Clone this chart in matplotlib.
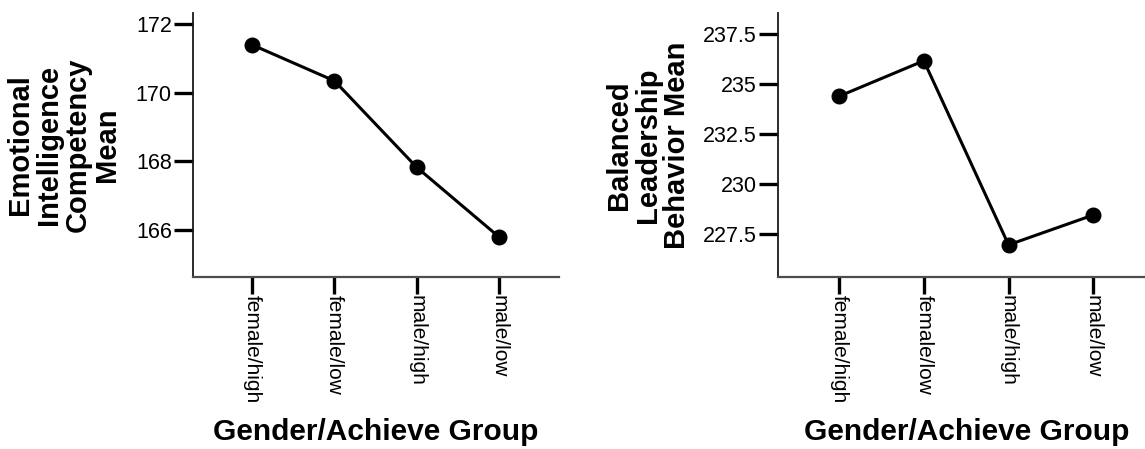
import matplotlib
matplotlib.use('Agg')
import matplotlib.pyplot as plt

# group means by gender / achievement level
groups = ['female/high', 'female/low', 'male/high', 'male/low']
ei_means = [171.40, 170.35, 167.83, 165.80]
blb_means = [234.39, 236.16, 226.97, 228.46]

ei_ticks = [166, 168, 170, 172]
ei_ticklabels = ['166', '168', '170', '172']
blb_ticks = [227.5, 230, 232.5, 235, 237.5]
blb_ticklabels = ['227.5', '230', '232.5', '235', '237.5']

plt.rcParams['font.family'] = ['Liberation Sans', 'DejaVu Sans']

W, H = 1145, 449
fig = plt.figure(figsize=(W / 100, H / 100), dpi=100)


def panel(box, values, yticks, yticklabels, ylim, ylabel, label_x):
    left, top, right, bottom = box
    ax = fig.add_axes([left / W, 1 - bottom / H, (right - left) / W, (bottom - top) / H])
    xs = list(range(len(groups)))
    ax.plot(xs, values, color='black', lw=2.2, marker='o', ms=10.5,
            clip_on=False, zorder=3)
    ax.set_xlim(-0.725, len(groups) - 1 + 0.725)
    ax.set_ylim(*ylim)

    for side in ['top', 'right']:
        ax.spines[side].set_visible(False)
    ax.spines['left'].set_color('#1a1a1a')
    ax.spines['left'].set_linewidth(1.3)
    ax.spines['bottom'].set_color('#4d4d4d')
    ax.spines['bottom'].set_linewidth(1.6)

    ax.set_yticks(yticks)
    ax.set_yticklabels(yticklabels)
    ax.set_xticks(xs)
    ax.set_xticklabels(groups, rotation=270, ha='center', va='top')
    ax.tick_params(axis='y', length=14, width=2.4, pad=1, labelsize=15.5,
                   color='black')
    ax.tick_params(axis='x', length=12, width=2.4, pad=0.5, labelsize=15,
                   color='black')

    ax.set_ylabel(ylabel, fontsize=21, fontweight='bold', linespacing=1.05)
    ax.yaxis.set_label_coords(label_x, 0.5)
    ax.set_xlabel('Gender/Achieve Group', fontsize=21.5, fontweight='bold')
    ax.xaxis.set_label_coords(0.5, -0.532)
    return ax


panel((192.7, 12.7, 558.5, 277.3), ei_means, ei_ticks, ei_ticklabels,
      (164.62, 172.34), 'Emotional\nIntelligence\nCompetency\nMean', -0.196)
panel((777.7, 12.7, 1154.7, 277.3), blb_means, blb_ticks, blb_ticklabels,
      (225.35, 238.56), 'Balanced\nLeadership\nBehavior Mean', -0.230)

fig.savefig('out.png', dpi=100)
